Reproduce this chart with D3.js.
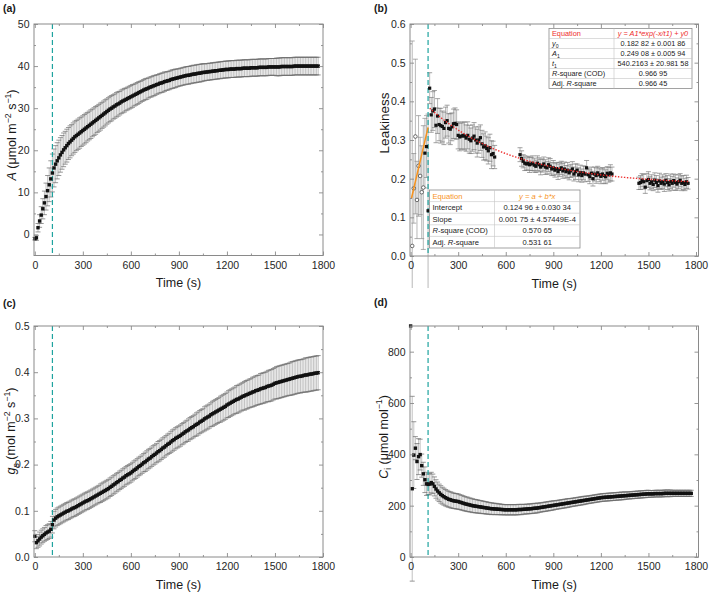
<!DOCTYPE html>
<html><head><meta charset="utf-8">
<script src="https://cdn.jsdelivr.net/npm/d3@7"></script>
<style>body{margin:0;background:#fff}svg{display:block}</style>
</head><body><svg id="c" width="709" height="592"></svg>
<script>
// ---------------- DATA ----------------
const timeGrid = d3.range(0, 1780, 10); // sampling times (s), 178 samples
const xMajorTicks = [0, 300, 600, 900, 1200, 1500, 1800];
const xMinorTicks = [150, 450, 750, 1050, 1350, 1650];
const lightOnTime = 110;

// (a) net assimilation A
const assimilation = [-1.0,-0.8,1.6,3.2,4.6,6.1,7.5,9.0,10.4,11.8,13.2,14.6,
15.8,16.7,17.5,18.2,18.9,19.5,20.1,20.6,21.1,21.6,22.0,22.4,22.8,23.2,23.5,23.8,24.1,24.4,24.7,
25.0,25.3,25.6,25.9,26.2,26.5,26.8,27.1,27.4,27.7,28.0,28.3,28.6,28.9,29.2,29.5,29.8,30.0,30.3,30.5,30.8,31.0,31.2,31.5,31.7,31.9,32.1,32.3,32.5,32.7,
32.9,33.1,33.3,33.5,33.7,33.9,34.1,34.3,34.5,34.6,34.8,35.0,35.1,35.3,35.4,35.6,35.7,35.9,36.0,36.1,36.3,36.4,36.5,36.6,36.8,36.9,37.0,37.1,37.2,37.3,
37.4,37.5,37.6,37.7,37.8,37.8,37.9,38.0,38.1,38.1,38.2,38.3,38.3,38.4,38.5,38.5,38.6,38.6,38.7,38.7,38.8,38.8,38.9,38.9,39.0,39.0,39.1,39.1,39.2,39.2,
39.2,39.3,39.3,39.3,39.3,39.4,39.4,39.4,39.4,39.5,39.5,39.5,39.5,39.5,39.6,39.6,39.6,39.6,39.6,39.7,39.7,39.7,39.7,39.7,39.7,39.8,39.8,39.8,39.8,39.8,
39.8,39.8,39.8,39.9,39.9,39.9,39.9,39.9,39.9,39.9,39.9,40.0,40.0,40.0,40.0,40.0,40.0,40.0,40.0,40.0,40.0,40.0,40.0,40.0,40.0,40.0,40.0];
const assimilationErr = [0.3,0.6,1.0,1.5,2.0,2.4,2.8,3.2,3.6,4.0,4.3,4.5,
4.5,4.4,4.3,4.2,4.1,4.0,4.0,3.9,3.9,3.8,3.8,3.7,3.7,3.7,3.6,3.6,3.6,3.5,3.5,
3.5,3.5,3.4,3.4,3.4,3.3,3.3,3.3,3.2,3.2,3.2,3.1,3.1,3.1,3.0,3.0,3.0,3.0,2.9,2.9,2.9,2.9,2.8,2.8,2.8,2.8,2.7,2.7,2.7,2.7,
2.7,2.6,2.6,2.6,2.6,2.5,2.5,2.5,2.5,2.5,2.4,2.4,2.4,2.4,2.4,2.3,2.3,2.3,2.3,2.3,2.3,2.2,2.2,2.2,2.2,2.2,2.2,2.2,2.1,2.1,
2.1,2.1,2.1,2.1,2.1,2.1,2.1,2.1,2.1,2.1,2.1,2.1,2.1,2.1,2.1,2.0,2.0,2.0,2.0,2.0,2.0,2.0,2.0,2.0,2.0,2.0,2.0,2.0,2.0,2.0,
2.0,2.0,2.0,2.0,2.0,2.0,2.0,2.0,2.0,2.0,2.0,2.0,2.0,2.0,2.0,2.0,2.0,2.0,2.0,2.0,2.0,2.0,2.0,2.0,2.0,2.0,2.0,2.0,2.0,2.0,
2.1,2.1,2.1,2.1,2.1,2.1,2.1,2.1,2.1,2.1,2.1,2.1,2.1,2.1,2.1,2.1,2.1,2.1,2.1,2.1,2.1,2.1,2.1,2.1,2.1,2.1,2.1];

// (c) stomatal conductance gs
const conductance = [0.045,0.031,0.035,0.039,0.043,0.046,0.049,0.052,0.054,0.056,0.060,0.070,
0.080,0.084,0.087,0.089,0.091,0.093,0.095,0.097,0.099,0.100,0.102,0.104,0.106,0.107,0.109,0.111,0.113,0.115,0.117,
0.119,0.121,0.122,0.124,0.126,0.128,0.130,0.132,0.134,0.136,0.138,0.140,0.142,0.144,0.146,0.148,0.151,0.153,0.156,0.158,0.161,0.163,0.166,0.168,0.171,0.173,0.176,0.178,0.180,0.182,
0.185,0.188,0.190,0.193,0.196,0.198,0.201,0.204,0.206,0.209,0.212,0.214,0.217,0.220,0.222,0.225,0.228,0.230,0.233,0.236,0.238,0.241,0.244,0.246,0.249,0.252,0.254,0.257,0.259,0.261,
0.263,0.266,0.268,0.271,0.273,0.275,0.278,0.280,0.282,0.285,0.287,0.289,0.292,0.294,0.296,0.299,0.301,0.303,0.305,0.308,0.310,0.312,0.314,0.316,0.318,0.320,0.322,0.324,0.326,0.329,
0.331,0.333,0.335,0.337,0.339,0.341,0.342,0.344,0.346,0.348,0.349,0.351,0.352,0.354,0.355,0.357,0.358,0.360,0.361,0.362,0.364,0.365,0.366,0.367,0.369,0.370,0.371,0.372,0.374,0.376,
0.377,0.378,0.379,0.380,0.381,0.382,0.383,0.384,0.385,0.386,0.387,0.388,0.389,0.390,0.391,0.391,0.392,0.393,0.394,0.394,0.395,0.396,0.396,0.397,0.398,0.398,0.399];
const conductanceErr = [0.012,0.013,0.014,0.015,0.015,0.015,0.015,0.016,0.016,0.016,0.017,0.018,
0.019,0.019,0.019,0.019,0.019,0.019,0.019,0.019,0.019,0.019,0.019,0.019,0.019,0.019,0.019,0.019,0.019,0.019,0.019,
0.019,0.019,0.019,0.019,0.019,0.019,0.019,0.019,0.019,0.019,0.020,0.020,0.020,0.020,0.020,0.020,0.020,0.020,0.020,0.020,0.020,0.020,0.020,0.020,0.020,0.020,0.020,0.020,0.020,0.020,
0.020,0.020,0.020,0.020,0.020,0.020,0.020,0.020,0.021,0.021,0.021,0.021,0.021,0.021,0.021,0.021,0.022,0.022,0.022,0.022,0.022,0.022,0.022,0.022,0.023,0.023,0.023,0.023,0.023,0.023,
0.023,0.023,0.023,0.023,0.023,0.024,0.024,0.024,0.024,0.024,0.025,0.025,0.025,0.025,0.025,0.026,0.026,0.026,0.026,0.026,0.027,0.027,0.027,0.027,0.027,0.028,0.028,0.028,0.028,0.028,
0.029,0.029,0.029,0.029,0.029,0.030,0.030,0.030,0.030,0.030,0.031,0.031,0.031,0.031,0.031,0.032,0.032,0.032,0.032,0.032,0.033,0.033,0.033,0.033,0.033,0.034,0.034,0.034,0.034,0.034,
0.035,0.035,0.035,0.035,0.035,0.035,0.035,0.035,0.035,0.036,0.036,0.036,0.036,0.036,0.036,0.036,0.036,0.036,0.037,0.037,0.037,0.037,0.037,0.037,0.037,0.037,0.037];

// (d) intercellular CO2 Ci
const intercellularCO2 = [900,266,397,424,372,391,399,356,324,301,285,283,
284,290,285,275,265,257,250,244,239,235,231,228,225,223,221,219,218,217,216,
214,212,210,208,206,205,203,202,200,199,198,197,196,195,194,193,192,191,190,189,188,188,187,187,186,186,185,185,184,184,
184,184,184,184,184,184,184,185,185,185,186,186,187,187,188,188,189,190,190,191,192,193,194,195,196,197,198,199,200,201,
202,203,204,205,206,207,208,209,210,211,212,213,214,215,216,217,218,219,220,221,222,223,224,225,226,227,228,229,230,231,
232,232,233,233,234,234,235,235,236,236,237,237,238,238,239,239,240,240,241,241,242,242,243,243,244,244,245,245,246,246,
246,246,246,247,247,247,247,247,247,248,248,248,248,248,248,248,248,248,248,248,248,248,248,248,248,248,248];
const intercellularCO2Err = [0,360,130,45,70,70,60,45,45,50,45,40,
42,40,38,37,36,35,34,34,33,33,32,32,31,31,31,30,30,30,30,
29,29,29,28,28,28,27,27,27,26,26,26,25,25,25,24,24,24,23,23,23,22,22,22,21,21,21,20,20,20,
20,20,20,20,20,20,20,20,20,20,19,19,19,19,19,19,19,19,19,19,18,18,18,18,18,18,18,18,18,18,
17,17,17,17,17,17,17,17,17,17,16,16,16,16,16,16,16,16,16,16,15,15,15,15,15,15,15,15,15,15,
15,15,15,15,15,15,15,15,15,15,15,15,15,15,15,14,14,14,14,14,14,14,14,14,14,14,14,14,14,14,
13,13,13,13,13,13,13,13,13,13,13,13,13,13,12,12,12,12,12,12,12,12,12,12,12,12,12];

// (b) leakiness
const leakEarlyTime  = [10,20,30,40,50,60,70,80,90,100,110];
const leakEarlyValue = [0.026,0.175,0.309,0.145,0.233,0.207,0.165,0.177,0.266,0.283,0.117];
const leakEarlyErr   = [0.53,0.09,0.20,0.10,0.13,0.10,0.12,0.16,0.09,0.08,0.25];
const leakEarlyOpen  = [true,true,true,true,true,true,true,true,false,false,false];

const leakSeg1Time = d3.range(120, 540, 10);
const leakSeg1Value = [0.434,0.365,0.375,0.380,0.338,0.362,0.340,0.337,0.335,0.330,
0.345,0.350,0.330,0.328,0.334,0.342,0.343,0.340,0.312,0.308,
0.310,0.312,0.310,0.305,0.312,0.302,0.298,0.305,0.310,0.300,
0.292,0.300,0.306,0.290,0.282,0.285,0.278,0.272,0.280,0.262,
0.265,0.256];
const leakSeg1Err = [0.040,0.045,0.050,0.048,0.045,0.045,0.042,0.045,0.040,0.042,
0.040,0.040,0.038,0.040,0.036,0.038,0.040,0.038,0.035,0.036,
0.034,0.035,0.036,0.034,0.035,0.036,0.033,0.034,0.035,0.034,
0.036,0.034,0.033,0.035,0.034,0.036,0.032,0.034,0.035,0.036,
0.032,0.030];

const leakSeg2Time = d3.range(690, 1280, 10);
const leakSeg2Value = [0.262,0.252,0.245,0.240,0.238,0.240,0.236,0.238,0.240,0.235,
0.232,0.240,0.236,0.230,0.234,0.238,0.230,0.228,0.236,0.232,
0.225,0.228,0.222,0.226,0.218,0.224,0.228,0.220,0.225,0.218,
0.222,0.215,0.220,0.225,0.212,0.218,0.222,0.210,0.216,0.208,
0.215,0.212,0.228,0.210,0.205,0.214,0.200,0.212,0.208,0.215,
0.210,0.206,0.212,0.208,0.205,0.214,0.210,0.215,0.212];
const leakSeg2Err = [0.018,0.020,0.017,0.019,0.016,0.018,0.020,0.017,0.019,0.018,
0.016,0.019,0.018,0.020,0.017,0.018,0.019,0.016,0.018,0.020,
0.017,0.019,0.018,0.016,0.020,0.018,0.017,0.019,0.018,0.016,
0.020,0.018,0.017,0.019,0.018,0.020,0.016,0.018,0.019,0.017,
0.018,0.020,0.019,0.017,0.018,0.016,0.019,0.018,0.020,0.017,
0.018,0.019,0.016,0.020,0.018,0.017,0.019,0.021,0.018];

const leakSeg3Time = d3.range(1440, 1760, 10);
const leakSeg3Value = [0.188,0.190,0.196,0.192,0.178,0.195,0.198,0.188,0.192,0.185,
0.196,0.190,0.182,0.194,0.188,0.192,0.186,0.196,0.190,0.184,
0.193,0.188,0.195,0.190,0.186,0.192,0.196,0.188,0.190,0.185,
0.192,0.188];
const leakSeg3Err = [0.016,0.018,0.017,0.019,0.016,0.018,0.020,0.017,0.018,0.016,
0.019,0.018,0.017,0.020,0.016,0.018,0.019,0.017,0.018,0.016,
0.019,0.018,0.017,0.020,0.016,0.018,0.017,0.019,0.018,0.016,
0.017,0.015];

// fits shown in (b)
const expFitY0 = 0.18282, expFitA1 = 0.24908, expFitT1 = 540.2163;
const expFitRange = [120, 1760];
const linFitIntercept = 0.12496, linFitSlope = 0.00175;
const linFitRange = [5, 110];

const expTableLabels = [[["Equation",""]],[["y","i"],["0","sub"]],[["A","i"],["1","sub"]],[["t","i"],["1","sub"]],[["R","i"],["-square (COD)",""]],[["Adj. ",""],["R","i"],["-square",""]]];
const expTableValues = ["y = A1*exp(-x/t1) + y0","0.182 82 ± 0.001 86","0.249 08 ± 0.005 94","540.2163 ± 20.981 58","0.966 95","0.966 45"];
const linTableLabels = [[["Equation",""]],[["Intercept",""]],[["Slope",""]],[["R","i"],["-square (COD)",""]],[["Adj. ",""],["R","i"],["-square",""]]];
const linTableValues = ["y = a + b*x","0.124 96 ± 0.030 34","0.001 75 ± 4.57449E-4","0.570 65","0.531 61"];

// ---------------- DRAWING ----------------
const FONT = "'Liberation Sans', Arial, sans-serif";
const FRAME = "#8a8a8a";
const TEAL = "#1fa39f";
const RED = "#ee2b2b";
const ORANGE = "#f7931e";
const svg = d3.select("#c").attr("font-family", FONT);

function addSegs(textSel, segs, fs) {
  let shift = 0;
  segs.forEach(([t, s]) => {
    const target = s === "sup" ? -0.42 * fs : s === "sub" ? 0.28 * fs : 0;
    const ts = textSel.append("tspan").text(t).attr("dy", target - shift);
    shift = target;
    if (s === "i") ts.attr("font-style", "italic");
    if (s === "sup" || s === "sub") ts.attr("font-size", fs * 0.7);
  });
}

function makePanel(cfg) {
  const xs = d3.scaleLinear().domain(cfg.xDom).range([cfg.x0, cfg.sx1]);
  const ys = d3.scaleLinear().domain(cfg.yDom).range([cfg.y1, cfg.y0]);
  return { xs, ys };
}

function drawAxes(cfg, xs, ys) {
  const g = svg.append("g");
  const add = (axis, tr) => {
    const a = g.append("g").attr("transform", tr).call(axis);
    a.select(".domain").remove();
    a.selectAll("line").attr("stroke", FRAME).attr("stroke-width", 0.9);
    a.selectAll("text").attr("fill", "#262626").attr("font-size", 10.5).attr("font-family", FONT);
    return a;
  };
  add(d3.axisBottom(xs).tickValues(xMajorTicks).tickSize(-4).tickPadding(6).tickFormat(d3.format("d")), `translate(0,${cfg.y1})`);
  add(d3.axisBottom(xs).tickValues(xMinorTicks).tickSize(-2).tickFormat(""), `translate(0,${cfg.y1})`);
  add(d3.axisTop(xs).tickValues(xMajorTicks).tickSize(-4).tickFormat(""), `translate(0,${cfg.y0})`);
  add(d3.axisTop(xs).tickValues(xMinorTicks).tickSize(-2).tickFormat(""), `translate(0,${cfg.y0})`);
  add(d3.axisLeft(ys).tickValues(cfg.yMajor).tickSize(-4).tickPadding(4.5).tickFormat(cfg.fmt), `translate(${cfg.x0},0)`);
  add(d3.axisLeft(ys).tickValues(cfg.yMinor).tickSize(-2).tickFormat(""), `translate(${cfg.x0},0)`);
  add(d3.axisRight(ys).tickValues(cfg.yMajor).tickSize(-4).tickFormat(""), `translate(${cfg.x1},0)`);
  add(d3.axisRight(ys).tickValues(cfg.yMinor).tickSize(-2).tickFormat(""), `translate(${cfg.x1},0)`);
  g.append("rect").attr("x", cfg.x0).attr("y", cfg.y0).attr("width", cfg.x1 - cfg.x0).attr("height", cfg.y1 - cfg.y0)
    .attr("fill", "none").attr("stroke", FRAME).attr("stroke-width", 1);
  // titles
  svg.append("text").attr("x", (cfg.x0 + cfg.x1) / 2).attr("y", cfg.y1 + 31.5).attr("text-anchor", "middle")
    .attr("font-size", 12.5).attr("fill", "#1a1a1a").text("Time (s)");
  const yt = svg.append("text").attr("transform", `translate(${cfg.ytx},${cfg.yty}) rotate(-90)`)
    .attr("text-anchor", "middle").attr("font-size", cfg.ytfs).attr("fill", "#1a1a1a");
  addSegs(yt, cfg.ytitle, cfg.ytfs);
  svg.append("text").attr("x", cfg.lx).attr("y", cfg.ly).attr("font-size", 10.5).attr("font-weight", "bold").attr("fill", "#1a1a1a").text(cfg.label);
}

function drawErrorBars(g, xs, ys, times, vals, errs, cap, barColor, capColor) {
  const data = times.map((t, i) => ({ t, v: vals[i], e: errs[i] })).filter(d => d.e > 0);
  g.append("g").selectAll("line").data(data).join("line")
    .attr("x1", d => xs(d.t)).attr("x2", d => xs(d.t))
    .attr("y1", d => ys(d.v - d.e)).attr("y2", d => ys(d.v + d.e))
    .attr("stroke", barColor).attr("stroke-width", 0.7);
  ["-", "+"].forEach(sgn => {
    g.append("g").selectAll("line").data(data).join("line")
      .attr("x1", d => xs(d.t) - cap / 2).attr("x2", d => xs(d.t) + cap / 2)
      .attr("y1", d => ys(sgn === "+" ? d.v + d.e : d.v - d.e)).attr("y2", d => ys(sgn === "+" ? d.v + d.e : d.v - d.e))
      .attr("stroke", capColor).attr("stroke-width", 0.7);
  });
}

function drawSquares(g, xs, ys, times, vals, size) {
  g.append("g").selectAll("rect").data(times.map((t, i) => ({ t, v: vals[i] }))).join("rect")
    .attr("x", d => xs(d.t) - size / 2).attr("y", d => ys(d.v) - size / 2)
    .attr("width", size).attr("height", size).attr("fill", "#111");
}

function drawTeal(g, xs, cfg) {
  g.append("line").attr("x1", xs(lightOnTime)).attr("x2", xs(lightOnTime))
    .attr("y1", cfg.y0).attr("y2", cfg.y1).attr("stroke", TEAL).attr("stroke-width", 1.2).attr("stroke-dasharray", "5,3");
}

// ---- panel (a)
const cfgA = { x0: 34, x1: 323, sx1: 323, xDom: [-5, 1800], y0: 24, y1: 255.5, yDom: [-5, 50], yMajor: [0, 10, 20, 30, 40, 50], yMinor: [5, 15, 25, 35, 45],
  fmt: d3.format("d"), ytitle: [["A","i"],[" (μmol m",""],["−2","sup"],[" s",""],["−1","sup"],[")",""]], ytx: 16, yty: 135, ytfs: 12.5,
  label: "(a)", lx: 3, ly: 12 };
{
  const { xs, ys } = makePanel(cfgA);
  const g = svg.append("g");
  drawErrorBars(g, xs, ys, timeGrid, assimilation, assimilationErr, 5, "#a8a8a8", "#6a6a6a");
  drawTeal(g, xs, cfgA);
  drawSquares(g, xs, ys, timeGrid, assimilation, 3.4);
  drawAxes(cfgA, xs, ys);
}

// ---- panel (b)
const cfgB = { x0: 410, x1: 698.5, sx1: 696, xDom: [-4, 1800], y0: 24, y1: 256, yDom: [0, 0.6], yMajor: [0, 0.1, 0.2, 0.3, 0.4, 0.5, 0.6], yMinor: [0.05, 0.15, 0.25, 0.35, 0.45, 0.55],
  fmt: d3.format(".1f"), ytitle: [["Leakiness",""]], ytx: 388.5, yty: 123, ytfs: 13.5,
  label: "(b)", lx: 374, ly: 12 };
{
  const { xs, ys } = makePanel(cfgB);
  svg.append("clipPath").attr("id", "clipB").append("rect").attr("x", 380).attr("y", 0).attr("width", 329).attr("height", 288);
  const g = svg.append("g").attr("clip-path", "url(#clipB)");
  drawErrorBars(g, xs, ys, leakEarlyTime, leakEarlyValue, leakEarlyErr, 5, "#9a9a9a", "#8a8a8a");
  drawErrorBars(g, xs, ys, leakSeg1Time, leakSeg1Value, leakSeg1Err, 5, "#9a9a9a", "#7a7a7a");
  drawErrorBars(g, xs, ys, leakSeg2Time, leakSeg2Value, leakSeg2Err, 5, "#9a9a9a", "#7a7a7a");
  drawErrorBars(g, xs, ys, leakSeg3Time, leakSeg3Value, leakSeg3Err, 5, "#9a9a9a", "#7a7a7a");
  drawTeal(g, xs, cfgB);
  const early = leakEarlyTime.map((t, i) => ({ t, v: leakEarlyValue[i], open: leakEarlyOpen[i] }));
  g.append("g").selectAll("circle").data(early.filter(d => d.open)).join("circle")
    .attr("cx", d => xs(d.t)).attr("cy", d => ys(d.v)).attr("r", 1.8).attr("fill", "#fff").attr("stroke", "#333").attr("stroke-width", 0.7);
  g.append("g").selectAll("rect").data(early.filter(d => !d.open)).join("rect")
    .attr("x", d => xs(d.t) - 1.6).attr("y", d => ys(d.v) - 1.6).attr("width", 3.2).attr("height", 3.2).attr("fill", "#111");
  drawSquares(g, xs, ys, leakSeg1Time, leakSeg1Value, 3.2);
  drawSquares(g, xs, ys, leakSeg2Time, leakSeg2Value, 3.2);
  drawSquares(g, xs, ys, leakSeg3Time, leakSeg3Value, 3.2);
  // exponential fit (red dotted)
  const expPts = d3.range(expFitRange[0], expFitRange[1] + 1, 5).map(t => [t, expFitA1 * Math.exp(-t / expFitT1) + expFitY0]);
  g.append("path").attr("d", d3.line().x(d => xs(d[0])).y(d => ys(d[1]))(expPts))
    .attr("fill", "none").attr("stroke", RED).attr("stroke-width", 1.4).attr("stroke-dasharray", "1.4,1.6");
  // linear fit (orange)
  const linPts = linFitRange.map(t => [t, linFitIntercept + linFitSlope * t + 0.015]);
  g.append("path").attr("d", d3.line().x(d => xs(d[0])).y(d => ys(d[1]))(linPts))
    .attr("fill", "none").attr("stroke", ORANGE).attr("stroke-width", 1.5);
  drawAxes(cfgB, xs, ys);

  function drawTable(x, y, w, split, rowH, labels, values, color, fs) {
    const tg = svg.append("g");
    tg.append("rect").attr("x", x).attr("y", y).attr("width", w).attr("height", rowH * labels.length)
      .attr("fill", "#fff").attr("stroke", "#8c8c8c").attr("stroke-width", 0.8);
    for (let i = 1; i < labels.length; i++) {
      tg.append("line").attr("x1", x).attr("x2", x + w).attr("y1", y + i * rowH).attr("y2", y + i * rowH)
        .attr("stroke", "#c4c4c4").attr("stroke-width", 0.6);
    }
    tg.append("line").attr("x1", split).attr("x2", split).attr("y1", y).attr("y2", y + rowH * labels.length)
      .attr("stroke", "#c4c4c4").attr("stroke-width", 0.6);
    labels.forEach((segs, i) => {
      const ty = y + i * rowH + rowH / 2 + fs * 0.36;
      const t = tg.append("text").attr("x", x + 3).attr("y", ty).attr("font-size", fs).attr("fill", i === 0 ? color : "#222");
      addSegs(t, segs, fs);
      tg.append("text").attr("x", (split + x + w) / 2).attr("y", ty).attr("text-anchor", "middle").attr("font-size", fs)
        .attr("font-style", i === 0 ? "italic" : null).attr("fill", i === 0 ? color : "#222").text(values[i]);
    });
  }
  drawTable(549, 28.5, 143, 614, 10, expTableLabels, expTableValues, RED, 7.3);
  drawTable(429.5, 190, 150.5, 494.5, 11.6, linTableLabels, linTableValues, ORANGE, 7.6);
}

// ---- panel (c)
const cfgC = { x0: 34, x1: 323, sx1: 323, xDom: [-5, 1800], y0: 326, y1: 557, yDom: [0, 0.5], yMajor: [0, 0.1, 0.2, 0.3, 0.4, 0.5], yMinor: [0.05, 0.15, 0.25, 0.35, 0.45],
  fmt: d3.format(".1f"), ytitle: [["g","i"],["s","sub"],[" (mol m",""],["−2","sup"],[" s",""],["−1","sup"],[")",""]], ytx: 15, yty: 431, ytfs: 12.5,
  label: "(c)", lx: 3, ly: 307 };
{
  const { xs, ys } = makePanel(cfgC);
  const g = svg.append("g");
  drawErrorBars(g, xs, ys, timeGrid, conductance, conductanceErr, 5, "#a8a8a8", "#6a6a6a");
  drawTeal(g, xs, cfgC);
  drawSquares(g, xs, ys, timeGrid, conductance, 3.4);
  drawAxes(cfgC, xs, ys);
}

// ---- panel (d)
const cfgD = { x0: 410, x1: 698.5, sx1: 696, xDom: [-4, 1800], y0: 326, y1: 557, yDom: [0, 900], yMajor: [0, 200, 400, 600, 800], yMinor: [100, 300, 500, 700],
  fmt: d3.format("d"), ytitle: [["C","i"],["i","sub"],[" (μmol mol",""],["−1","sup"],[")",""]], ytx: 387.5, yty: 437, ytfs: 12.5,
  label: "(d)", lx: 374, ly: 306 };
{
  const { xs, ys } = makePanel(cfgD);
  const g = svg.append("g");
  drawErrorBars(g, xs, ys, timeGrid, intercellularCO2, intercellularCO2Err, 5, "#a8a8a8", "#6a6a6a");
  drawTeal(g, xs, cfgD);
  drawSquares(g, xs, ys, timeGrid, intercellularCO2, 3.4);
  drawAxes(cfgD, xs, ys);
}
</script></body></html>
